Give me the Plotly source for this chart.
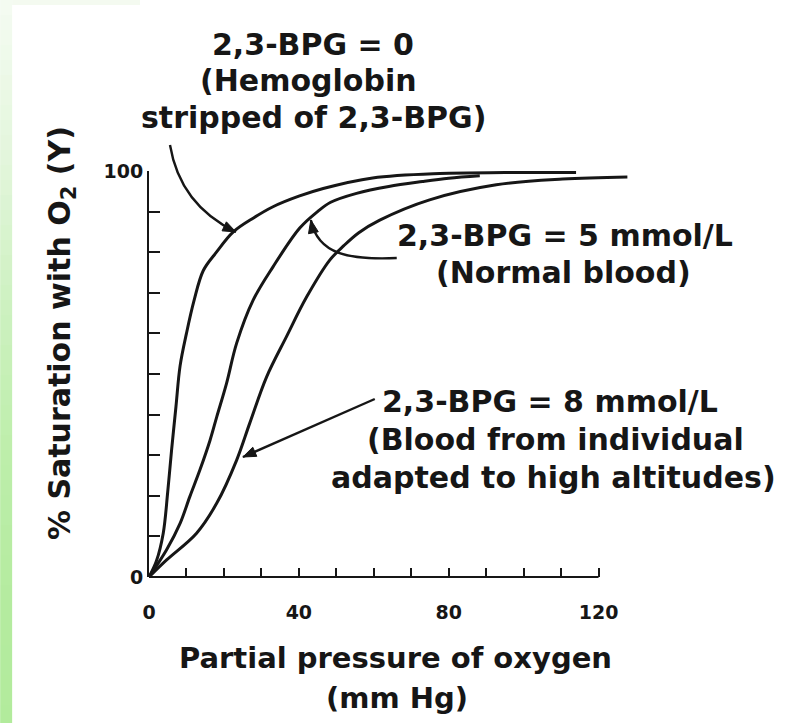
import math

import plotly.graph_objects as go

# --- data (pO2 in mm Hg, saturation in %) ---
po2_bpg0 = [0, 2.0, 3.8, 5.0, 6.0, 7.2, 8.3, 10.0, 12.0, 14.5, 18.0, 22.5, 28.0,
            33.1, 40.0, 46.5, 59.7, 77.6, 95.0, 114.0]
sat_bpg0 = [0, 4.0, 10.8, 21.0, 31.0, 42.0, 52.0, 60.0, 68.0, 75.5, 80.0, 85.0, 88.5,
            91.2, 93.8, 95.7, 98.3, 99.4, 99.6, 99.6]

po2_bpg5 = [0, 4.7, 8.3, 10.9, 13.6, 16.3, 18.1, 20.7, 23.4, 27.8, 33.1, 40.3, 45.0,
            48.5, 55.4, 64.0, 73.0, 80.0, 88.3]
sat_bpg5 = [0, 6.7, 13.2, 19.8, 26.4, 33.7, 39.5, 47.7, 57.6, 68.2, 76.4, 86.0, 90.0,
            92.3, 94.5, 96.2, 97.4, 98.2, 98.8]

po2_bpg8 = [0, 4.7, 12.7, 18.1, 23.4, 26.9, 31.4, 36.7, 42.1, 48.3, 52.0, 56.0, 61.6,
            74.9, 92.7, 110.4, 127.7]
sat_bpg8 = [0, 4.2, 10.8, 18.2, 28.8, 37.9, 49.3, 59.2, 69.0, 78.1, 81.6, 84.8, 87.9,
            92.9, 96.6, 98.0, 98.5]

x_labels = [0, 40, 80, 120]
x_minor = [10, 20, 30, 50, 60, 70, 90, 100, 110]
y_labels = [0, 100]
y_minor = [10, 20, 30, 40, 50, 60, 70, 80, 90]

FONT = "DejaVu Sans"
INK = "#161616"

# plot area in page pixels
W, H = 785, 723
L, R, T, B = 149, 636.5, 171, 577
X_MAX = 130


def px(x):
    return (x - L) / (R - L)


def py(y):
    return (B - y) / (B - T)


fig = go.Figure()
for xs, ys in [(po2_bpg0, sat_bpg0), (po2_bpg5, sat_bpg5), (po2_bpg8, sat_bpg8)]:
    fig.add_trace(go.Scatter(x=xs, y=ys, mode="lines",
                             line=dict(color=INK, width=3, shape="spline", smoothing=1),
                             hoverinfo="skip", showlegend=False))

# green slide edge on the left
strip_y = [0, 150, 300, 450, 600, 723]
strip_rgb = [(244, 251, 241), (227, 246, 220), (205, 241, 192), (189, 238, 170),
             (180, 235, 159), (178, 235, 156)]
for i in range(0, 723, 15):
    for k in range(len(strip_y) - 1):
        if strip_y[k] <= i < strip_y[k + 1]:
            f = (i - strip_y[k]) / (strip_y[k + 1] - strip_y[k])
            c = [round(a + (b - a) * f) for a, b in zip(strip_rgb[k], strip_rgb[k + 1])]
    fig.add_shape(type="rect", xref="paper", yref="paper", x0=px(0), x1=px(12),
                  y0=py(i), y1=py(i + 15), line_width=0, fillcolor="rgb(%d,%d,%d)" % tuple(c),
                  layer="below")
fig.add_shape(type="rect", xref="paper", yref="paper", x0=px(12), x1=px(140),
              y0=py(0), y1=py(5), line_width=0, fillcolor="#f4faf0", layer="below")

# x axis line only up to 120
fig.add_shape(type="line", xref="x", yref="paper", x0=0, x1=120, y0=0, y1=0,
              line=dict(color=INK, width=2))


def label(text, x, y, size=30, angle=0):
    fig.add_annotation(text=text, x=px(x), y=py(y), xref="paper", yref="paper",
                       showarrow=False, textangle=angle, xanchor="center", yanchor="middle",
                       font=dict(family=FONT, size=size, color=INK, weight="bold"))


def head(tx, ty, fx, fy, length=13, half=5):
    # filled arrow head at (tx, ty), pointing away from (fx, fy)
    d = math.hypot(tx - fx, ty - fy)
    ux, uy = (tx - fx) / d, (ty - fy) / d
    bx, by = tx - ux * length, ty - uy * length
    pts = [(tx, ty), (bx - uy * half, by + ux * half), (bx + uy * half, by - ux * half)]
    path = "M " + " L ".join("%.4f,%.4f" % (px(a), py(b)) for a, b in pts) + " Z"
    fig.add_shape(type="path", xref="paper", yref="paper", path=path,
                  fillcolor=INK, line=dict(color=INK, width=1))


def curve(path_pts, cmd):
    pts = " ".join("%.4f,%.4f" % (px(a), py(b)) for a, b in path_pts[1:])
    a, b = path_pts[0]
    fig.add_shape(type="path", xref="paper", yref="paper",
                  path="M %.4f,%.4f %s %s" % (px(a), py(b), cmd, pts),
                  line=dict(color=INK, width=2.4))


label("2,3-BPG = 0", 313, 44)
label("(Hemoglobin", 309, 80)
label("stripped of 2,3-BPG)", 314, 117)
label("2,3-BPG = 5 mmol/L", 565, 235)
label("(Normal blood)", 564, 272)
label("2,3-BPG = 8 mmol/L", 550, 401)
label("(Blood from individual", 556, 439)
label("adapted to high altitudes)", 554, 477)

label("Partial pressure of oxygen", 396, 658, size=29)
label("(mm Hg)", 397, 698, size=29)
label("% Saturation with O<sub>2</sub> (Y)", 61, 333, size=30, angle=-90)

curve([(170, 145), (180, 205), (236, 232)], "Q")
head(236, 232, 180, 205)
curve([(397, 258), (350, 260), (318, 255), (311, 220)], "C")
head(311, 220, 316, 245)
curve([(375, 399), (243, 457)], "L")
head(243, 457, 375, 399)

tick_font = dict(family=FONT, size=19, color=INK, weight="bold")
fig.update_xaxes(range=[0, X_MAX], tickvals=x_labels,
                 ticks="inside", ticklen=9, tickwidth=2, tickcolor=INK,
                 minor=dict(tickvals=x_minor, ticks="inside", ticklen=9, tickwidth=2,
                            tickcolor=INK, showgrid=False),
                 showline=False, showgrid=False, zeroline=False,
                 tickfont=tick_font, ticklabelstandoff=22)
fig.update_yaxes(range=[0, 100], tickvals=y_labels,
                 ticks="inside", ticklen=11, tickwidth=2, tickcolor=INK,
                 minor=dict(tickvals=y_minor, ticks="inside", ticklen=11, tickwidth=2,
                            tickcolor=INK, showgrid=False),
                 showline=True, linewidth=2, linecolor=INK,
                 showgrid=False, zeroline=False, tickfont=tick_font)
fig.update_layout(width=W, height=H, margin=dict(l=L, r=W - R, t=T, b=H - B),
                  paper_bgcolor="white", plot_bgcolor="white", showlegend=False)

# the page's default 8px body margin would shift the whole figure
fig.write_html("out.html", config={"displayModeBar": False},
               post_script="document.body.style.margin='0px';")
